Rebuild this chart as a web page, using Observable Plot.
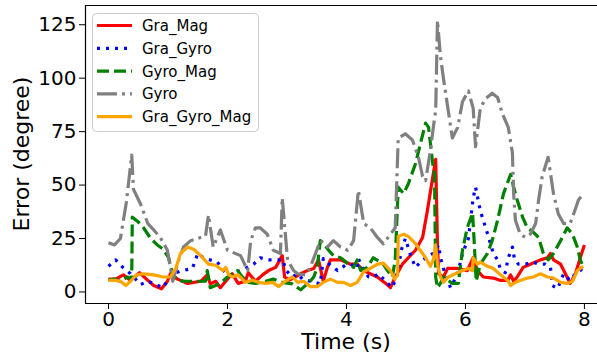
<!DOCTYPE html>
<html>
<head>
<meta charset="utf-8">
<script src="https://cdn.jsdelivr.net/npm/d3@7"></script>
<script src="https://cdn.jsdelivr.net/npm/@observablehq/plot@0.6"></script>
<style>
  html, body { margin: 0; padding: 0; background: white; }
  #chart { width: 597px; height: 360px; }
</style>
</head>
<body>
<div id="chart"></div>
<script>
// Orientation error of five sensor-fusion variants over an 8 s run.
const xTicks = [0, 2, 4, 6, 8];
const yTicks = [0, 25, 50, 75, 100, 125];
const xDomain = [-0.387, 8.22];
const yDomain = [-5.4, 134];

const seriesNames = ["Gra_Mag", "Gra_Gyro", "Gyro_Mag", "Gyro", "Gra_Gyro_Mag"];

// Gra_Mag
const graMagT = [0, 0.12, 0.25, 0.37, 0.52, 0.66, 0.76, 0.89, 0.99, 1.04, 1.16, 1.33, 1.55, 1.66, 1.71, 1.8, 1.88, 1.97, 2.08, 2.18, 2.3, 2.35, 2.47, 2.59, 2.69, 2.81, 2.92, 2.96, 3.04, 3.14, 3.23, 3.34, 3.45, 3.53, 3.61, 3.68, 3.73, 3.9, 4.07, 4.18, 4.29, 4.4, 4.52, 4.66, 4.74, 4.82, 4.94, 5.04, 5.16, 5.28, 5.36, 5.45, 5.5, 5.53, 5.55, 5.63, 5.7, 5.87, 6.03, 6.13, 6.2, 6.3, 6.47, 6.59, 6.71, 6.76, 6.81, 6.87, 6.97, 7.09, 7.26, 7.38, 7.43, 7.48, 7.6, 7.68, 7.76, 7.85, 7.93, 8.0];
const graMagV = [6, 6, 8, 5.4, 9, 5.4, 3, 1.5, 5, 8.5, 6, 4, 5, 8, 3.8, 5, 2, 5, 8.5, 4, 5, 9, 5, 8, 10, 11.5, 17, 7, 5.5, 7, 8.5, 10, 11, 15, 5, 11.5, 15, 15, 13, 13, 10, 8.5, 7, 4, 2, 7, 13, 16, 19.5, 25.5, 38, 53.6, 62, 22, 8.5, 7, 11, 11, 10, 16, 10, 7, 6.5, 5.4, 5.4, 8, 5, 7, 11.5, 13, 15, 16, 18, 15, 13, 8.5, 4, 8.5, 16, 22];

// Gra_Gyro
const graGyroT = [0, 0.12, 0.24, 0.37, 0.54, 0.66, 0.76, 0.91, 0.99, 1.08, 1.24, 1.41, 1.5, 1.6, 1.71, 1.83, 1.93, 2.05, 2.17, 2.3, 2.44, 2.55, 2.69, 2.86, 2.94, 2.97, 3.09, 3.18, 3.26, 3.39, 3.56, 3.61, 3.73, 3.85, 3.98, 4.07, 4.18, 4.2, 4.27, 4.37, 4.45, 4.54, 4.66, 4.77, 4.86, 4.92, 4.99, 5.08, 5.16, 5.28, 5.45, 5.55, 5.58, 5.66, 5.75, 5.87, 5.95, 6.05, 6.13, 6.17, 6.25, 6.34, 6.39, 6.47, 6.54, 6.59, 6.67, 6.72, 6.79, 6.82, 6.89, 7.01, 7.13, 7.23, 7.34, 7.43, 7.46, 7.55, 7.65, 7.76, 7.85, 7.93, 8.0];
const graGyroV = [12, 15, 11.5, 8.5, 3.5, 5, 4, 2, 5, 8.5, 10, 11, 18, 16, 15, 14, 10, 7.5, 9.5, 11, 13, 16, 15, 15, 15, 10.5, 7, 8.5, 6, 5, 3.8, 15.6, 12.5, 10, 12.5, 13, 11, 15.6, 11.5, 7, 7, 8.5, 5, 2, 8.5, 19.5, 25, 17, 11.5, 15, 18, 22, 16, 8, 2, 8.5, 18, 25, 44, 49, 38, 30, 25.5, 18, 15, 10.5, 9, 16, 21, 16, 13, 13, 14, 13, 13, 11.5, 3, 1.6, 8.5, 5.4, 8.5, 10, 12];

// Gyro_Mag
const gyroMagT = [0, 0.1, 0.2, 0.32, 0.39, 0.4, 0.49, 0.59, 0.71, 0.82, 0.92, 1.01, 1.08, 1.16, 1.29, 1.46, 1.63, 1.66, 1.71, 1.88, 2.0, 2.08, 2.17, 2.25, 2.35, 2.47, 2.64, 2.77, 2.92, 3.09, 3.18, 3.23, 3.39, 3.45, 3.51, 3.56, 3.61, 3.7, 3.78, 3.9, 3.95, 4.03, 4.12, 4.18, 4.24, 4.35, 4.45, 4.54, 4.62, 4.69, 4.77, 4.82, 4.87, 4.96, 5.04, 5.16, 5.24, 5.33, 5.38, 5.45, 5.48, 5.5, 5.53, 5.58, 5.63, 5.78, 5.88, 5.95, 6.03, 6.12, 6.15, 6.18, 6.25, 6.37, 6.45, 6.54, 6.64, 6.76, 6.81, 6.87, 6.96, 7.04, 7.14, 7.23, 7.31, 7.39, 7.48, 7.6, 7.71, 7.8, 7.88, 7.93, 7.98];
const gyroMagV = [5.5, 6, 5, 7, 6, 35, 33, 30, 25, 22, 20, 16, 8, 5.4, 5, 5, 5, 10, 2, 4, 7, 8.5, 10, 7, 4.5, 4, 5, 6, 4.5, 3.8, 2, 1, 5, 7, 11.5, 24, 23, 19.5, 17, 16, 15, 13, 11.5, 15, 10, 11.5, 16, 14.5, 13, 10, 7, 15, 49, 46, 50.6, 60, 69, 79, 77, 60, 55, 7, 2, 4, 7, 4, 4, 19.5, 30, 37, 22, 5, 13, 18, 24, 33.5, 46, 55, 49, 43, 35, 30, 28, 25.5, 18, 15, 18, 24, 30, 27, 21, 15, 12];

// Gyro
const gyroT = [0, 0.1, 0.2, 0.3, 0.39, 0.42, 0.54, 0.66, 0.76, 0.87, 0.99, 1.08, 1.18, 1.26, 1.38, 1.55, 1.63, 1.68, 1.76, 1.88, 2.0, 2.22, 2.34, 2.39, 2.47, 2.55, 2.67, 2.77, 2.89, 2.92, 3.01, 3.11, 3.18, 3.31, 3.39, 3.48, 3.56, 3.68, 3.78, 3.9, 4.02, 4.12, 4.2, 4.29, 4.4, 4.52, 4.62, 4.74, 4.82, 4.87, 4.99, 5.11, 5.21, 5.28, 5.33, 5.41, 5.46, 5.5, 5.53, 5.58, 5.63, 5.71, 5.78, 5.87, 5.95, 6.05, 6.13, 6.17, 6.25, 6.34, 6.45, 6.54, 6.62, 6.72, 6.79, 6.81, 6.84, 6.92, 7.01, 7.09, 7.18, 7.23, 7.29, 7.39, 7.43, 7.48, 7.56, 7.65, 7.76, 7.82, 7.9, 7.98];
const gyroV = [23, 22, 25, 42, 64, 48, 41, 32, 29, 25.5, 19.5, 5, 15, 21, 24, 25.5, 26, 36, 21, 29, 19.5, 17, 10, 24, 30, 30, 27, 19.5, 18, 44, 15, 10, 8.5, 8, 11.5, 18, 24, 21, 24, 21, 19.5, 24, 47.5, 32, 30, 25.5, 22.5, 27, 30, 72, 74, 71, 63, 54, 52, 66, 77, 85, 127, 110, 100, 85, 72, 77, 89, 94, 86, 68, 86, 90.5, 93, 91, 83.5, 77, 65, 46, 33.5, 27, 25.5, 27, 32, 43, 54, 63, 55.5, 46, 36.6, 32, 32, 36.6, 43, 46];

// Gra_Gyro_Mag
const graGyroMagT = [0, 0.12, 0.2, 0.29, 0.37, 0.47, 0.59, 0.76, 0.92, 1.04, 1.13, 1.21, 1.33, 1.43, 1.55, 1.68, 1.8, 1.92, 1.97, 2.02, 2.08, 2.18, 2.3, 2.42, 2.52, 2.64, 2.76, 2.86, 2.97, 3.09, 3.18, 3.28, 3.39, 3.51, 3.61, 3.73, 3.85, 3.95, 4.07, 4.18, 4.29, 4.4, 4.52, 4.62, 4.74, 4.81, 4.86, 4.87, 4.96, 5.04, 5.16, 5.24, 5.33, 5.41, 5.46, 5.5, 5.53, 5.58, 5.63, 5.71, 5.83, 5.95, 6.05, 6.12, 6.13, 6.2, 6.25, 6.37, 6.47, 6.59, 6.71, 6.76, 6.84, 6.92, 7.04, 7.14, 7.26, 7.38, 7.48, 7.6, 7.71, 7.8, 7.88, 7.98];
const graGyroMagV = [5.4, 5.4, 5, 3, 5, 8, 8.5, 8, 7, 7, 11, 18, 21, 20, 17, 13, 12.5, 10, 11.5, 8, 7, 8, 4.5, 5.5, 4.5, 4, 4.5, 2.5, 5, 7, 4.5, 5, 2.5, 2.5, 4.5, 6, 4.5, 4.5, 3, 4.5, 9.5, 11, 13, 13.5, 10, 6, 8, 26, 27, 26, 22.6, 19.5, 16, 12, 15, 22, 13, 7, 4.5, 7, 8.5, 10, 11, 10, 16, 13, 14, 12, 11, 8, 5.4, 3, 4.5, 5.4, 6.5, 7, 8.5, 7, 6.5, 4.5, 4, 5, 10, 12];

const seriesT = [graMagT, graGyroT, gyroMagT, gyroT, graGyroMagT];
const seriesV = [graMagV, graGyroV, gyroMagV, gyroV, graGyroMagV];
const seriesColor = ["#ff0000", "#0000ff", "#008000", "#808080", "#ffa500"];
const seriesDash = [null, "3,6", "12,5", "20,5,3,5", null];
const lineWidth = 3.2;

const rows = (t, v) => t.map((ti, i) => ({t: ti, v: v[i]}));

const lineMarks = seriesNames.map((name, k) =>
  Plot.line(rows(seriesT[k], seriesV[k]), {
    x: "t", y: "v",
    stroke: seriesColor[k],
    strokeWidth: lineWidth,
    strokeDasharray: seriesDash[k] ?? undefined,
    strokeLinecap: "butt",
    strokeLinejoin: "round"
  })
);

const chart = Plot.plot({
  width: 597,
  height: 360,
  marginLeft: 85,
  marginRight: 0,
  marginTop: 5,
  marginBottom: 57,
  style: {fontFamily: "DejaVu Sans", fontSize: "20px", color: "black", background: "white", overflow: "visible"},
  x: {domain: xDomain, ticks: xTicks, tickSize: 6, tickPadding: 2, label: null, tickFormat: d3.format("d")},
  y: {domain: yDomain, ticks: yTicks, tickSize: 6, tickPadding: 3, label: null, tickFormat: d3.format("d")},
  marks: [
    ...lineMarks,
    Plot.ruleX([xDomain[0]], {stroke: "black", strokeWidth: 1.2}),
    Plot.ruleY([yDomain[0], yDomain[1]], {stroke: "black", strokeWidth: 1.2})
  ]
});

document.getElementById("chart").appendChild(chart);

const svg = d3.select(chart);

// axis titles
svg.append("text")
  .attr("x", 346).attr("y", 349)
  .attr("text-anchor", "middle")
  .attr("font-family", "DejaVu Sans").attr("font-size", 22)
  .attr("fill", "black")
  .text("Time (s)");

svg.append("text")
  .attr("transform", "translate(29,154) rotate(-90)")
  .attr("text-anchor", "middle")
  .attr("font-family", "DejaVu Sans").attr("font-size", 22)
  .attr("fill", "black")
  .text("Error (degree)");

// legend
const legend = svg.append("g").attr("text-anchor", "start");
legend.append("rect")
  .attr("x", 92.5).attr("y", 13.5).attr("width", 166).attr("height", 118)
  .attr("rx", 4)
  .attr("fill", "white").attr("fill-opacity", 0.8)
  .attr("stroke", "#cccccc").attr("stroke-width", 1);

seriesNames.forEach((name, k) => {
  const cy = 25.5 + k * 22.8;
  legend.append("line")
    .attr("x1", 97).attr("x2", 132).attr("y1", cy).attr("y2", cy)
    .attr("stroke", seriesColor[k]).attr("stroke-width", lineWidth)
    .attr("stroke-dasharray", seriesDash[k])
    .attr("stroke-linecap", "butt");
  legend.append("text")
    .attr("x", 142).attr("y", cy + 5.5)
    .attr("text-anchor", "start")
    .attr("font-family", "DejaVu Sans").attr("font-size", 15)
    .attr("fill", "black")
    .text(name);
});
</script>
</body>
</html>
